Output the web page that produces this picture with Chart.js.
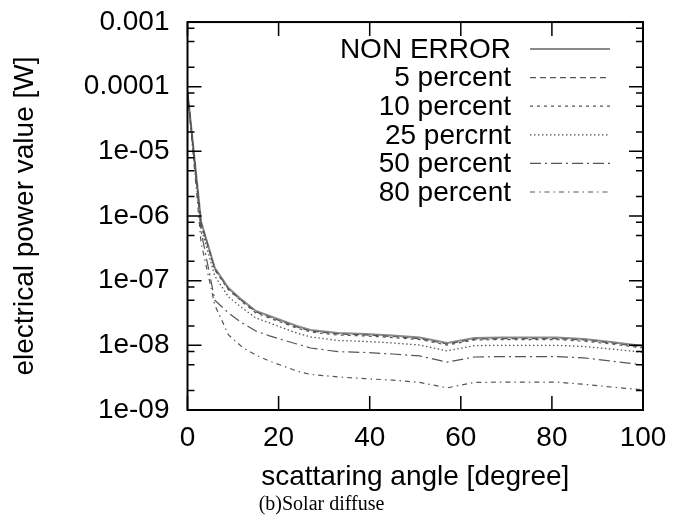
<!DOCTYPE html>
<html>
<head>
<meta charset="utf-8">
<script src="https://cdn.jsdelivr.net/npm/chart.js@4.4.1/dist/chart.umd.min.js"></script>
<style>
  html, body { margin: 0; padding: 0; background: #fff; }
  #wrap { width: 673px; height: 525px; }
</style>
</head>
<body>
<div id="wrap"><canvas id="c" width="673" height="525"></canvas></div>
<script>
// ---- data ----
const angles = [0, 3, 6, 9, 12, 15, 18, 21, 24, 27, 33, 39, 45, 51, 57, 63, 69, 75, 81, 87, 93, 100];

const nonError = [8.3e-5, 8.1e-7, 1.57e-7, 7.7e-8, 5.0e-8, 3.4e-8, 2.84e-8, 2.38e-8, 1.99e-8, 1.73e-8, 1.55e-8, 1.5e-8, 1.42e-8, 1.32e-8, 1.09e-8, 1.3e-8, 1.32e-8, 1.32e-8, 1.32e-8, 1.25e-8, 1.13e-8, 9.8e-9];
const pct5     = [8.3e-5, 7.8e-7, 1.52e-7, 7.4e-8, 4.85e-8, 3.3e-8, 2.74e-8, 2.3e-8, 1.92e-8, 1.67e-8, 1.5e-8, 1.45e-8, 1.37e-8, 1.27e-8, 1.05e-8, 1.25e-8, 1.27e-8, 1.27e-8, 1.27e-8, 1.21e-8, 1.09e-8, 9.4e-9];
const pct10    = [8.3e-5, 7.5e-7, 1.46e-7, 7.2e-8, 4.7e-8, 3.16e-8, 2.64e-8, 2.21e-8, 1.85e-8, 1.61e-8, 1.44e-8, 1.4e-8, 1.32e-8, 1.23e-8, 1.01e-8, 1.21e-8, 1.23e-8, 1.23e-8, 1.23e-8, 1.16e-8, 1.05e-8, 9.1e-9];
const pct25    = [8.3e-5, 6.5e-7, 1.18e-7, 5.6e-8, 3.8e-8, 2.65e-8, 2.22e-8, 1.85e-8, 1.55e-8, 1.35e-8, 1.19e-8, 1.15e-8, 1.09e-8, 1.01e-8, 8.2e-9, 9.9e-9, 1.0e-8, 1.0e-8, 1.0e-8, 9.6e-9, 8.8e-9, 7.8e-9];
const pct50    = [8.3e-5, 5.7e-7, 5.0e-8, 3.16e-8, 2.22e-8, 1.67e-8, 1.4e-8, 1.21e-8, 1.05e-8, 9.1e-9, 8.0e-9, 7.75e-9, 7.35e-9, 6.85e-9, 5.5e-9, 6.6e-9, 6.7e-9, 6.7e-9, 6.7e-9, 6.4e-9, 5.7e-9, 5.0e-9];
const pct80    = [8.3e-5, 3.8e-7, 4.2e-8, 1.45e-8, 9.4e-9, 7.1e-9, 5.7e-9, 4.8e-9, 4.0e-9, 3.55e-9, 3.25e-9, 3.05e-9, 2.9e-9, 2.67e-9, 2.2e-9, 2.67e-9, 2.7e-9, 2.7e-9, 2.7e-9, 2.5e-9, 2.27e-9, 2.05e-9];

const seriesNames = ['NON ERROR', '5 percent', '10 percent', '25 percrnt', '50 percent', '80 percent'];

const yTickValues = [1e-9, 1e-8, 1e-7, 1e-6, 1e-5, 1e-4, 1e-3];
const yTickLabels = ['1e-09', '1e-08', '1e-07', '1e-06', '1e-05', '0.0001', '0.001'];
const yMinorMultipliers = [2, 5, 8];
const xTickValues = [0, 20, 40, 60, 80, 100];

const xTitle = 'scattaring angle [degree]';
const yTitle = 'electrical power value [W]';
const caption = '(b)Solar diffuse';

// ---- styles ----
const FONT = '"Liberation Sans", Arial, sans-serif';
const styles = [
  { color: '#8a8a8a', width: 2.0, dash: [] },
  { color: '#555555', width: 1.2, dash: [6, 4] },
  { color: '#555555', width: 1.2, dash: [3, 4] },
  { color: '#555555', width: 1.3, dash: [1.5, 2.5] },
  { color: '#555555', width: 1.2, dash: [11, 4, 2, 4] },
  { color: '#555555', width: 1.2, dash: [5, 4, 1.5, 4] }
];
const allSeries = [nonError, pct5, pct10, pct25, pct50, pct80];

const datasets = allSeries.map((vals, i) => ({
  label: seriesNames[i],
  data: angles.map((a, j) => ({ x: a, y: vals[j] })),
  borderColor: styles[i].color,
  borderWidth: styles[i].width,
  borderDash: styles[i].dash,
  pointRadius: 0,
  tension: 0,
  fill: false,
  order: 5 - i
}));

// frame, inward ticks, and gnuplot-style legend
const gnuplotDecor = {
  id: 'gnuplotDecor',
  afterDatasetsDraw(chart) {
    const ctx = chart.ctx;
    const a = chart.chartArea;
    const xs = chart.scales.x, ys = chart.scales.y;
    ctx.save();
    ctx.strokeStyle = '#000';
    ctx.lineWidth = 1.5;
    ctx.setLineDash([]);
    const majorLen = 14, minorLen = 7;
    yTickValues.forEach((v, k) => {
      const py = ys.getPixelForValue(v);
      ctx.beginPath();
      ctx.moveTo(a.left, py); ctx.lineTo(a.left + majorLen, py);
      ctx.moveTo(a.right, py); ctx.lineTo(a.right - majorLen, py);
      ctx.stroke();
      if (k < yTickValues.length - 1) {
        yMinorMultipliers.forEach(m => {
          const pm = ys.getPixelForValue(v * m);
          ctx.beginPath();
          ctx.moveTo(a.left, pm); ctx.lineTo(a.left + minorLen, pm);
          ctx.moveTo(a.right, pm); ctx.lineTo(a.right - minorLen, pm);
          ctx.stroke();
        });
      }
    });
    xTickValues.forEach(v => {
      const px = xs.getPixelForValue(v);
      ctx.beginPath();
      ctx.moveTo(px, a.bottom); ctx.lineTo(px, a.bottom - majorLen);
      ctx.moveTo(px, a.top); ctx.lineTo(px, a.top + majorLen);
      ctx.stroke();
    });
    ctx.lineWidth = 2;
    ctx.strokeRect(a.left, a.top, a.right - a.left, a.bottom - a.top);

    // legend
    ctx.font = '28px ' + FONT;
    ctx.textAlign = 'right';
    ctx.textBaseline = 'middle';
    ctx.fillStyle = '#000';
    const textRight = 511, lineL = 530, lineR = 610, y0 = 49, dy = 28.6;
    chart.data.datasets.forEach((ds, i) => {
      const y = y0 + i * dy;
      ctx.fillText(ds.label, textRight, y + 1);
      ctx.beginPath();
      ctx.strokeStyle = ds.borderColor;
      ctx.lineWidth = ds.borderWidth;
      ctx.setLineDash(ds.borderDash);
      ctx.moveTo(lineL, y); ctx.lineTo(lineR, y);
      ctx.stroke();
    });
    ctx.restore();
  }
};

new Chart(document.getElementById('c'), {
  type: 'line',
  data: { datasets },
  options: {
    responsive: false,
    animation: false,
    layout: { padding: { left: 0, right: 30, top: 0, bottom: 0 } },
    plugins: {
      legend: { display: false },
      tooltip: { enabled: false },
      title: {
        display: true,
        position: 'bottom',
        text: caption,
        color: '#000',
        font: { family: '"Liberation Serif", "Times New Roman", serif', size: 20, weight: 'normal' },
        padding: { top: 2, bottom: 8 }
      }
    },
    scales: {
      x: {
        type: 'linear',
        min: 0, max: 100,
        afterBuildTicks: s => { s.ticks = xTickValues.map(v => ({ value: v })); },
        afterFit: s => { s.height = 81; s.paddingRight = 0; s.paddingLeft = 0; },
        ticks: { color: '#000', font: { family: FONT, size: 28 }, padding: 11, maxRotation: 0 },
        grid: { display: false, drawTicks: false },
        border: { display: false },
        title: { display: true, text: xTitle, color: '#000', font: { family: FONT, size: 28, lineHeight: 1.0 }, padding: { top: 0, bottom: 0 } }
      },
      y: {
        type: 'logarithmic',
        min: 1e-9, max: 1e-3,
        afterBuildTicks: s => { s.ticks = yTickValues.map(v => ({ value: v, major: true })); },
        afterFit: s => { s.width = 187.5; },
        ticks: {
          autoSkip: false,
          color: '#000',
          font: { family: FONT, size: 28, lineHeight: 0.29 },
          padding: 18,
          callback: (v) => { const k = yTickValues.findIndex(t => Math.abs(Math.log10(t) - Math.log10(v)) < 1e-6); return k >= 0 ? yTickLabels[k] : ''; }
        },
        grid: { display: false, drawTicks: false },
        border: { display: false },
        title: { display: true, text: yTitle, color: '#000', font: { family: FONT, size: 28 }, padding: { top: 8, bottom: 0 } }
      }
    }
  },
  plugins: [gnuplotDecor]
});
</script>
</body>
</html>
